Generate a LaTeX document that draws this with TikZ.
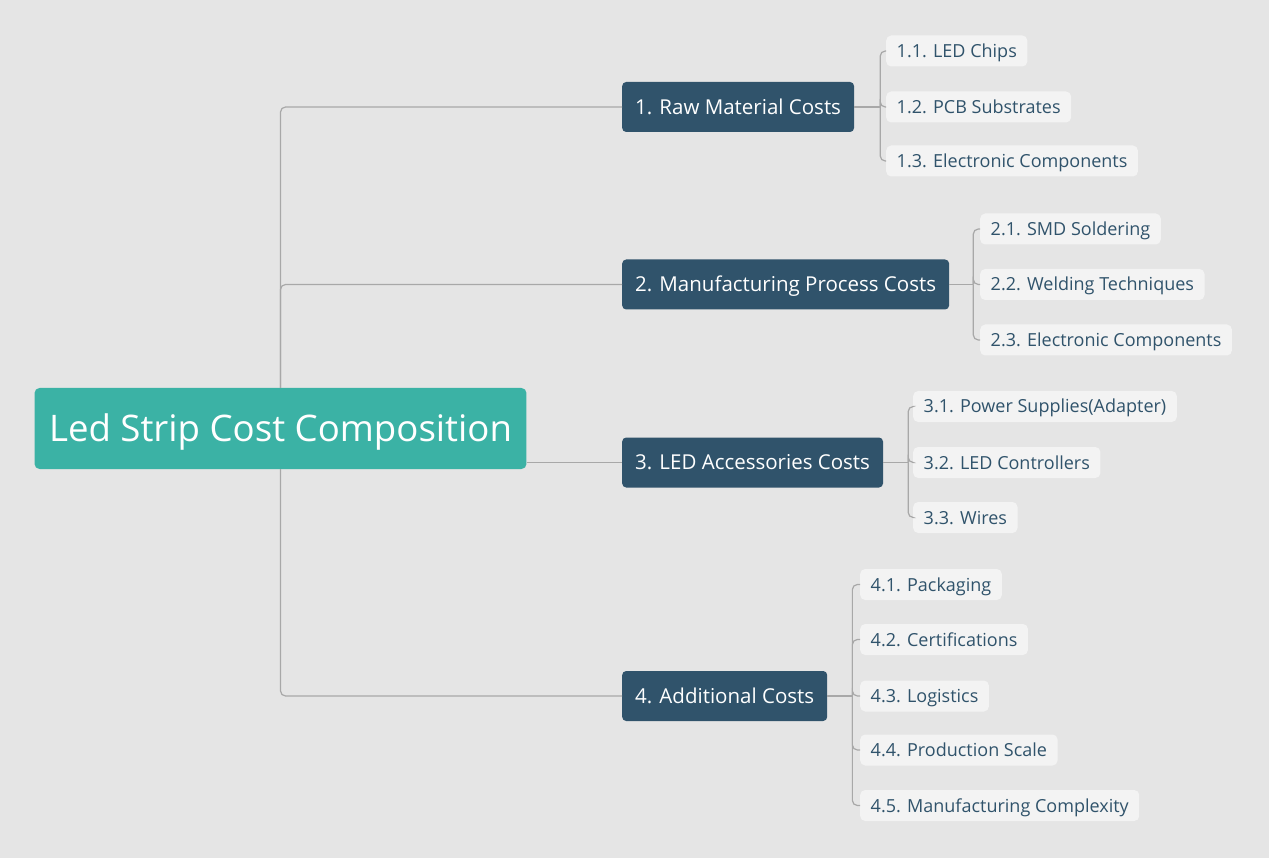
\documentclass[tikz,border=0pt]{standalone}
\usepackage{fontspec}
\setmainfont{Open Sans}
\usepackage{tikz}
\usepackage{xcolor}
\usetikzlibrary{positioning}
\definecolor{bgcol}{HTML}{E5E5E5}
\definecolor{rootcol}{HTML}{3BB2A5}
\definecolor{branchcol}{HTML}{30536B}
\definecolor{leafcol}{HTML}{F3F3F3}
\definecolor{linkcol}{HTML}{A8A8A8}
\tikzset{rootbox/.style={rounded corners=5pt, fill=rootcol, text=white, inner xsep=14.5pt,
    minimum height=81pt, text height=31pt, text depth=4.8pt, font=\fontsize{36.6}{40}\selectfont}}
\tikzset{branchbox/.style={anchor=west, rounded corners=4pt, fill=branchcol, text=white, inner xsep=13pt,
    minimum height=50pt, text height=17.4pt, text depth=2.7pt, font=\fontsize{20.5}{24}\selectfont}}
\tikzset{leafbox/.style={anchor=west, rounded corners=5pt, fill=leafcol, text=branchcol, inner xsep=10.5pt,
    minimum height=31pt, text height=15.3pt, text depth=2.3pt, font=\fontsize{18}{21}\selectfont}}
\tikzset{link/.style={draw=linkcol, line width=1.2pt, rounded corners=5pt}}

\begin{document}
\begin{tikzpicture}[x=1pt, y=-1pt]
    \fill[bgcol] (0, 0) rectangle (1269, 858);
    \useasboundingbox (0, 0) rectangle (1269, 858);

    \node[rootbox] (root) at (280.5, 428.5) {Led Strip Cost Composition};

    \node[branchbox] (raw) at (622, 107) {1. Raw Material Costs};
    \node[branchbox] (manu) at (622, 284.5) {2. Manufacturing Process Costs};
    \node[branchbox] (acc) at (622, 462.5) {3. LED Accessories Costs};
    \node[branchbox] (add) at (622, 696) {4. Additional Costs};

    \node[leafbox] (chips) at (886, 51) {1.1. LED Chips};
    \node[leafbox] (pcb) at (886, 107) {1.2. PCB Substrates};
    \node[leafbox] (elec) at (886, 161) {1.3. Electronic Components};

    \node[leafbox] (smd) at (980, 229) {2.1. SMD Soldering};
    \node[leafbox] (weld) at (980, 284.5) {2.2. Welding Techniques};
    \node[leafbox] (elecb) at (980, 340) {2.3. Electronic Components};

    \node[leafbox] (power) at (913, 406.5) {3.1. Power Supplies(Adapter)};
    \node[leafbox] (ctrl) at (913, 462.5) {3.2. LED Controllers};
    \node[leafbox] (wires) at (913, 517.5) {3.3. Wires};

    \node[leafbox] (pack) at (860, 584.5) {4.1. Packaging};
    \node[leafbox] (cert) at (860, 639.5) {4.2. Certifications};
    \node[leafbox] (logi) at (860, 696) {4.3. Logistics};
    \node[leafbox] (scale) at (860, 750) {4.4. Production Scale};
    \node[leafbox] (cplx) at (860, 805.5) {4.5. Manufacturing Complexity};

    % trunk
    \draw[link] (root.north) |- (raw.west);
    \draw[link] (root.north) |- (manu.west);
    \draw[link] (acc.west -| root.east) -- (acc.west);
    \draw[link] (root.south) |- (add.west);

    % brackets
    \coordinate[right=26pt of raw.east] (rawk);
    \coordinate[right=24pt of manu.east] (manuk);
    \coordinate[right=25pt of acc.east] (acck);
    \coordinate[right=25pt of add.east] (addk);

    \draw[link] (raw.east) -- (rawk);
    \draw[link] (rawk) |- (chips.west);
    \draw[link] (rawk) |- (pcb.west);
    \draw[link] (rawk) |- (elec.west);

    \draw[link] (manu.east) -- (manuk);
    \draw[link] (manuk) |- (smd.west);
    \draw[link] (manuk) |- (weld.west);
    \draw[link] (manuk) |- (elecb.west);

    \draw[link] (acc.east) -- (acck);
    \draw[link] (acck) |- (power.west);
    \draw[link] (acck) |- (ctrl.west);
    \draw[link] (acck) |- (wires.west);

    \draw[link] (add.east) -- (addk);
    \draw[link] (addk) |- (pack.west);
    \draw[link] (addk) |- (cert.west);
    \draw[link] (addk) |- (logi.west);
    \draw[link] (addk) |- (scale.west);
    \draw[link] (addk) |- (cplx.west);
\end{tikzpicture}
\end{document}
